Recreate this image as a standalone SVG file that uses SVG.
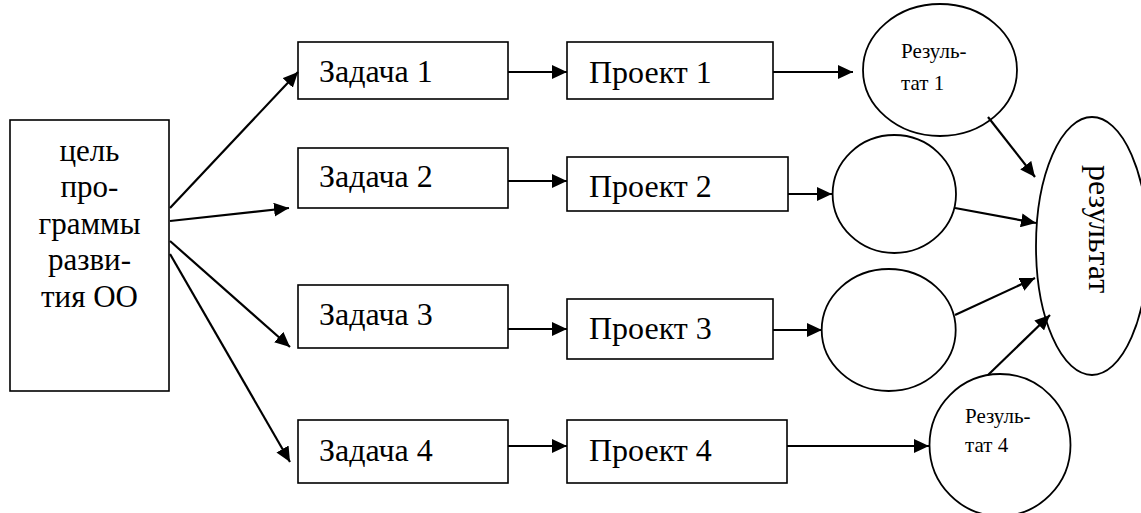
<svg xmlns="http://www.w3.org/2000/svg" width="1141" height="513" viewBox="0 0 1141 513">
<style>
.box{fill:#fff;stroke:#000;stroke-width:1.6}
.ell{fill:#fff;stroke:#000;stroke-width:1.8}
text{font-family:'Liberation Serif','Times New Roman','DejaVu Serif',serif;fill:#000}
.m{font-size:31px}
.t{font-size:32px}
.s{font-size:21px}
.c{stroke:#000;stroke-width:2.2;fill:none;marker-end:url(#ah)}
</style>
<defs>
<marker id="ah" markerUnits="userSpaceOnUse" markerWidth="16" markerHeight="14" refX="15" refY="7" orient="auto">
<path d="M0,0 L15,7 L0,14 z" fill="#000"/>
</marker>
</defs>
<rect width="1141" height="513" fill="#fff"/>
<g id="goal">
<rect class="box" x="10" y="120" width="159" height="271"/>
<text class="m" text-anchor="middle" x="89.5" y="161">цель</text>
<text class="m" text-anchor="middle" x="89.5" y="197">про-</text>
<text class="m" text-anchor="middle" x="89.5" y="234">граммы</text>
<text class="m" text-anchor="middle" x="89.5" y="270">разви-</text>
<text class="m" text-anchor="middle" x="89.5" y="307">тия ОО</text>
</g>
<g id="task1"><rect class="box" x="298" y="42" width="210" height="57"/><text class="t" x="319" y="82">Задача 1</text></g>
<g id="task2"><rect class="box" x="298" y="148" width="210" height="60"/><text class="t" x="319" y="187">Задача 2</text></g>
<g id="task3"><rect class="box" x="298" y="285" width="210" height="63"/><text class="t" x="319" y="325">Задача 3</text></g>
<g id="task4"><rect class="box" x="298" y="420" width="210" height="63"/><text class="t" x="319" y="461">Задача 4</text></g>
<g id="proj1"><rect class="box" x="567" y="42" width="206" height="57"/><text class="t" x="589" y="83">Проект 1</text></g>
<g id="proj2"><rect class="box" x="567" y="157" width="221" height="54"/><text class="t" x="589" y="197">Проект 2</text></g>
<g id="proj3"><rect class="box" x="567" y="299" width="206" height="60"/><text class="t" x="589" y="339">Проект 3</text></g>
<g id="proj4"><rect class="box" x="567" y="420" width="220" height="63"/><text class="t" x="589" y="461">Проект 4</text></g>
<g id="res1"><ellipse class="ell" cx="940" cy="70" rx="77" ry="66"/><text class="s" x="901" y="58">Резуль-</text><text class="s" x="901" y="90">тат 1</text></g>
<g id="res2"><ellipse class="ell" cx="894.3" cy="194" rx="61.7" ry="59"/></g>
<g id="res3"><ellipse class="ell" cx="888.7" cy="330" rx="67" ry="61"/></g>
<g id="res4"><ellipse class="ell" cx="1000" cy="445" rx="70.5" ry="71"/><text class="s" x="965" y="423">Резуль-</text><text class="s" x="965" y="452">тат 4</text></g>
<g id="result"><ellipse class="ell" cx="1092" cy="246" rx="56" ry="129"/><text class="t" text-anchor="middle" transform="translate(1088.5,229) rotate(90)">результат</text></g>
<g id="connectors">
<line class="c" x1="170" y1="208" x2="298" y2="72"/>
<line class="c" x1="170" y1="221" x2="289" y2="208"/>
<line class="c" x1="170" y1="241" x2="290" y2="347"/>
<line class="c" x1="170" y1="254" x2="290" y2="462"/>
<line class="c" x1="508" y1="72" x2="567" y2="72"/>
<line class="c" x1="508" y1="181" x2="567" y2="181"/>
<line class="c" x1="508" y1="329" x2="567" y2="329"/>
<line class="c" x1="508" y1="446" x2="567" y2="446"/>
<line class="c" x1="773" y1="72" x2="853" y2="72"/>
<line class="c" x1="788" y1="194" x2="832" y2="194"/>
<line class="c" x1="773" y1="330" x2="822" y2="330"/>
<line class="c" x1="787" y1="446" x2="929" y2="446"/>
<line class="c" x1="988" y1="117" x2="1035" y2="177"/>
<line class="c" x1="955" y1="208" x2="1036" y2="223"/>
<line class="c" x1="955" y1="315" x2="1035" y2="278"/>
<line class="c" x1="988" y1="375" x2="1050" y2="315"/>
</g>
</svg>
